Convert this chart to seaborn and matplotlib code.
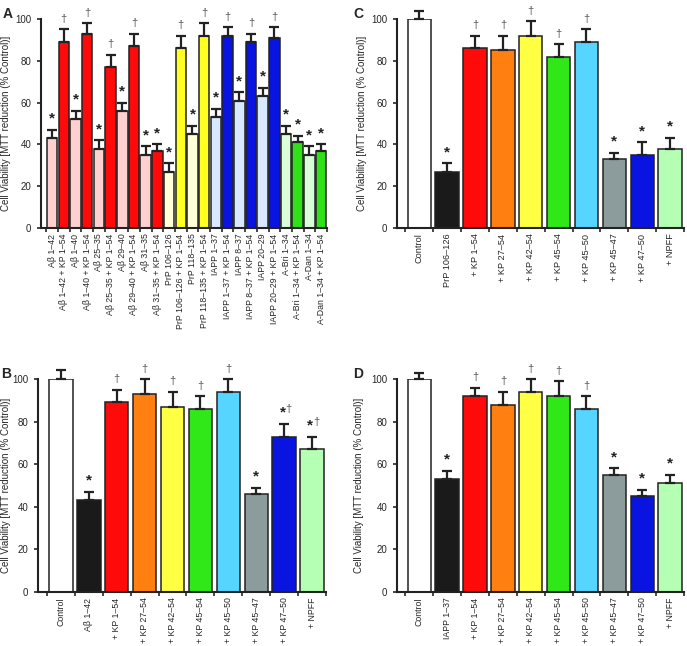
import matplotlib
matplotlib.use('Agg')
import matplotlib.pyplot as plt
import seaborn as sns
import numpy as np
import pandas as pd

# %% data
a_labels = ['Aβ 1–42', 'Aβ 1–42 + KP 1–54', 'Aβ 1–40', 'Aβ 1–40 + KP 1–54',
            'Aβ 25–35', 'Aβ 25–35 + KP 1–54', 'Aβ 29–40', 'Aβ 29–40 + KP 1–54',
            'Aβ 31–35', 'Aβ 31–35 + KP 1–54', 'PrP 106–126', 'PrP 106–126 + KP 1–54',
            'PrP 118–135', 'PrP 118–135 + KP 1–54', 'IAPP 1–37', 'IAPP 1–37 + KP 1–54',
            'IAPP 8–37', 'IAPP 8–37 + KP 1–54', 'IAPP 20–29', 'IAPP 20–29 + KP 1–54',
            'A-Bri 1–34', 'A-Bri 1–34 + KP 1–54', 'A-Dan 1–34', 'A-Dan 1–34 + KP 1–54']
a_values = [43, 89, 52, 93, 38, 77, 56, 87, 35, 37, 27, 86, 45, 92, 53, 92, 61, 89, 63, 91, 45, 41, 35, 37]
a_err = [4, 6, 4, 5, 4, 6, 4, 6, 4, 3, 4, 6, 4, 6, 4, 4, 4, 4, 4, 5, 4, 3, 4, 3]
a_marks = ['*', '†', '*', '†', '*', '†', '*', '†', '*', '*', '*', '†',
           '*', '†', '*', '†', '*', '†', '*', '†', '*', '*', '*', '*']
a_colors = ['#ffd0d0', '#ff0a0a'] * 5 + ['#ffffd8', '#ffff22'] * 2 + ['#d8e8ff', '#0a14e0'] * 3 + ['#d8ffd8', '#30e018'] * 2

kp_tail = ['+ KP 1–54', '+ KP 27–54', '+ KP 42–54', '+ KP 45–54', '+ KP 45–50',
           '+ KP 45–47', '+ KP 47–50', '+ NPFF']
kp_colors = ['#ffffff', '#1a1a1a', '#ff0a0a', '#ff8010', '#ffff44', '#30e818',
             '#55d5ff', '#8c9c9c', '#0a14e0', '#b4ffb4']

b_labels = ['Control', 'Aβ 1–42'] + kp_tail
b_values = [100, 43, 89, 93, 87, 86, 94, 46, 73, 67]
b_err = [4, 4, 6, 7, 7, 6, 6, 3, 6, 6]
b_marks = ['', '*', '†', '†', '†', '†', '†', '*', '*†', '*†']

c_labels = ['Control', 'PrP 106–126'] + kp_tail
c_values = [100, 27, 86, 85, 92, 82, 89, 33, 35, 38]
c_err = [4, 4, 6, 7, 7, 6, 6, 3, 6, 5]
c_marks = ['', '*', '†', '†', '†', '†', '†', '*', '*', '*']

d_labels = ['Control', 'IAPP 1–37'] + kp_tail
d_values = [100, 53, 92, 88, 94, 92, 86, 55, 45, 51]
d_err = [3, 4, 4, 6, 6, 7, 6, 3, 3, 4]
d_marks = ['', '*', '†', '†', '†', '†', '†', '*', '*', '*']

# %% style
sns.set_style('ticks')
plt.rcParams['font.family'] = ['Liberation Sans', 'DejaVu Sans']

W, H = 687, 646
fig = plt.figure(figsize=(W / 100, H / 100), dpi=100)


def make_axes(left, right, top, bottom):
    return fig.add_axes([left / W, 1 - bottom / H, (right - left) / W, (bottom - top) / H])


def panel(ax, labels, values, err, marks, colors, xleft, bar_w, xfont):
    df = pd.DataFrame({'label': labels, 'value': values})
    sns.barplot(data=df, x='label', y='value', hue='label', order=labels,
                palette=dict(zip(labels, colors)), legend=False, width=bar_w,
                edgecolor='#222222', linewidth=1.1, saturation=1, ax=ax)
    n = len(labels)
    x = np.arange(n)
    ax.errorbar(x, values, yerr=[np.zeros(n), err], fmt='none', ecolor='#222222',
                elinewidth=1.6, capsize=3.5, capthick=1.6, clip_on=False, zorder=3)
    for xi, v, e, m in zip(x, values, err, marks):
        top = v + e
        if m == '*':
            ax.text(xi, top + 2, '*', ha='center', va='bottom', fontsize=11,
                    fontweight='bold', color='#222222', clip_on=False)
        elif m == '†':
            ax.text(xi, top + 2.5, '†', ha='center', va='bottom', fontsize=8,
                    color='#555555', clip_on=False)
        elif m == '*†':
            ax.text(xi + 0.05, top + 2, '*', ha='right', va='bottom', fontsize=11,
                    fontweight='bold', color='#222222', clip_on=False)
            ax.text(xi + 0.05, top + 4.5, '†', ha='left', va='bottom', fontsize=8,
                    color='#555555', clip_on=False)
    ax.set_xlim(xleft, n - 0.5)
    ax.set_ylim(0, 100)
    ax.set_yticks([0, 20, 40, 60, 80, 100])
    ax.set_xticks(x)
    ax.set_xticklabels(labels, rotation=90, fontsize=xfont)
    ax.set_xticks(np.arange(n + 1) - 0.5, minor=True)
    ax.tick_params(axis='x', which='major', length=0, pad=4)
    ax.tick_params(axis='x', which='minor', length=3, width=1.2, direction='out')
    ax.tick_params(axis='y', length=3, width=1.2, labelsize=7, pad=4)
    ax.set_xlabel('')
    ax.set_ylabel('Cell Viability [MTT reduction (% Control)]', fontsize=7)
    for s in ['top', 'right']:
        ax.spines[s].set_visible(False)
    for s in ['left', 'bottom']:
        ax.spines[s].set_linewidth(1.5)
        ax.spines[s].set_color('#222222')


ax_a = make_axes(41, 327, 19, 228)
panel(ax_a, a_labels, a_values, a_err, a_marks, a_colors, -0.95, 0.9, 6.3)
ax_a.yaxis.set_label_coords(-0.105, 0.5)
fig.text(8 / W, 1 - 14 / H, 'A', fontsize=10, fontweight='bold', va='center', ha='center')

ax_c = make_axes(397, 684, 19, 228)
panel(ax_c, c_labels, c_values, c_err, c_marks, kp_colors, -0.8, 0.84, 6.6)
ax_c.yaxis.set_label_coords(-0.105, 0.5)
fig.text(358 / W, 1 - 14 / H, 'C', fontsize=10, fontweight='bold', va='center', ha='center')

ax_b = make_axes(38, 326, 379, 592)
panel(ax_b, b_labels, b_values, b_err, b_marks, kp_colors, -0.82, 0.84, 6.3)
ax_b.yaxis.set_label_coords(-0.095, 0.5)
fig.text(6 / W, 1 - 374 / H, 'B', fontsize=10, fontweight='bold', va='center', ha='center')

ax_d = make_axes(397, 684, 379, 592)
panel(ax_d, d_labels, d_values, d_err, d_marks, kp_colors, -0.8, 0.84, 6.3)
ax_d.yaxis.set_label_coords(-0.115, 0.5)
fig.text(358 / W, 1 - 374 / H, 'D', fontsize=10, fontweight='bold', va='center', ha='center')

fig.savefig('out.png', dpi=100)
